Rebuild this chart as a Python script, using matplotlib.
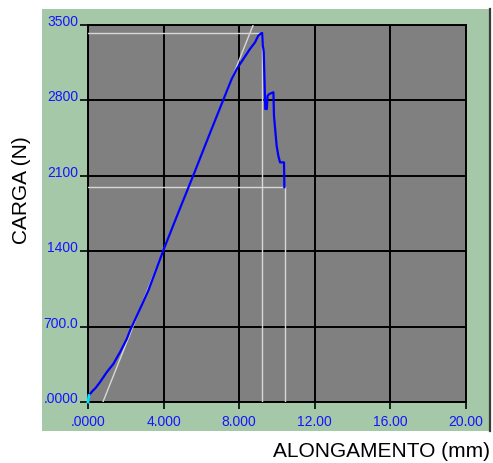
import matplotlib
matplotlib.use("Agg")
import matplotlib.pyplot as plt
import numpy as np

# Load–elongation record of the tensile test
elong_mm = [0.00, 0.05, 0.20, 0.40, 0.63, 0.99, 1.34, 1.69, 2.05, 2.22, 2.75,
            3.19, 3.98, 4.74, 5.60, 6.40, 7.14, 7.60, 7.87, 8.22, 8.57, 8.84,
            9.01, 9.19, 9.22, 9.25, 9.28, 9.30, 9.38, 9.42, 9.44, 9.46, 9.50,
            9.59, 9.81, 9.84, 9.98, 10.07, 10.16, 10.37, 10.39]
load_n = [0, 60, 95, 130, 183, 276, 353, 461, 584, 661, 863,
          1033, 1404, 1740, 2115, 2470, 2795, 2996, 3089, 3182, 3275, 3337,
          3398, 3423, 3423, 3300, 3275, 3240, 2718, 2718, 2800, 2718, 2840,
          2857, 2873, 2656, 2378, 2285, 2223, 2223, 1992]

# Reference markers: maximum load and final (rupture) load
max_load = 3423
max_load_elong = 9.19
break_load = 1992
break_elong = 10.42
# Elastic-modulus line: offset at zero load and slope (N/mm)
elastic_offset = 0.79
elastic_slope = 440.0

x_ticks = [0, 4, 8, 12, 16, 20]
x_tick_labels = [".0000", "4.000", "8.000", "12.00", "16.00", "20.00"]
y_ticks = [0, 700, 1400, 2100, 2800, 3500]
y_tick_labels = [".0000", "700.0", "1400", "2100", "2800", "3500"]

W, H = 493, 464
fig = plt.figure(figsize=(W / 100, H / 100), dpi=100)
fig.patch.set_facecolor("white")

# Green instrument panel behind the plot
bg = fig.add_axes([42 / W, 1 - 432 / H, 448 / W, 422 / H], zorder=0)
bg.set_facecolor("#a4c8a8")
bg.set_xticks([])
bg.set_yticks([])
for name, s in bg.spines.items():
    s.set_visible(name == "right")
bg.spines["right"].set_color("#3a3a3a")
bg.spines["right"].set_linewidth(1.6)

ax = fig.add_axes([88 / W, 1 - 403 / H, (466 - 88) / W, (403 - 25.7) / H],
                  zorder=1)
ax.set_facecolor("#808080")
ax.set_xlim(x_ticks[0], x_ticks[-1])
ax.set_ylim(y_ticks[0], y_ticks[-1])

ax.grid(True, color="black", lw=1.4)
ax.set_axisbelow(True)
for s in ax.spines.values():
    s.set_color("black")
    s.set_linewidth(1.4)

ax.set_xticks(x_ticks)
ax.set_xticklabels(x_tick_labels)
ax.set_yticks(y_ticks)
ax.set_yticklabels(y_tick_labels)
ax.tick_params(axis="x", direction="out", length=5, width=1.2, color="black",
               pad=4, labelsize=10, labelcolor="#1515ff")
ax.tick_params(axis="y", direction="out", length=6, width=1.2, color="black",
               pad=1, labelsize=10, labelcolor="#1515ff")
for lbl in ax.get_yticklabels():
    lbl.set_verticalalignment("baseline")
    lbl.set_fontfamily("Liberation Sans")
for lbl in ax.get_xticklabels():
    lbl.set_fontfamily("Liberation Sans")

# White reference lines
ref = dict(color="#d8d8d8", lw=1.0, zorder=3)
ax.plot([0, max_load_elong], [max_load, max_load], **ref)
ax.plot([max_load_elong, max_load_elong], [0, max_load], **ref)
ax.plot([0, break_elong], [break_load, break_load], **ref)
ax.plot([break_elong, break_elong], [0, break_load], **ref)
y_el = np.array([0, y_ticks[-1]])
ax.plot(elastic_offset + y_el / elastic_slope, y_el, **ref)

# Load curve
ax.plot(elong_mm, load_n, color="#0000ff", lw=1.6, zorder=4)
ax.plot(elong_mm[:2], load_n[:2], color="#00e0ff", lw=2.0, zorder=5,
        clip_on=False)

fig.text(22 / W, 1 - 190 / H, "CARGA (N)", rotation=90, ha="center",
         va="center", fontsize=15, family="Liberation Sans", color="black")
fig.text(490 / W, 1 - 457 / H, "ALONGAMENTO (mm)", ha="right",
         va="baseline", fontsize=15, family="Liberation Sans", color="black")

fig.savefig("out.png", dpi=100)
